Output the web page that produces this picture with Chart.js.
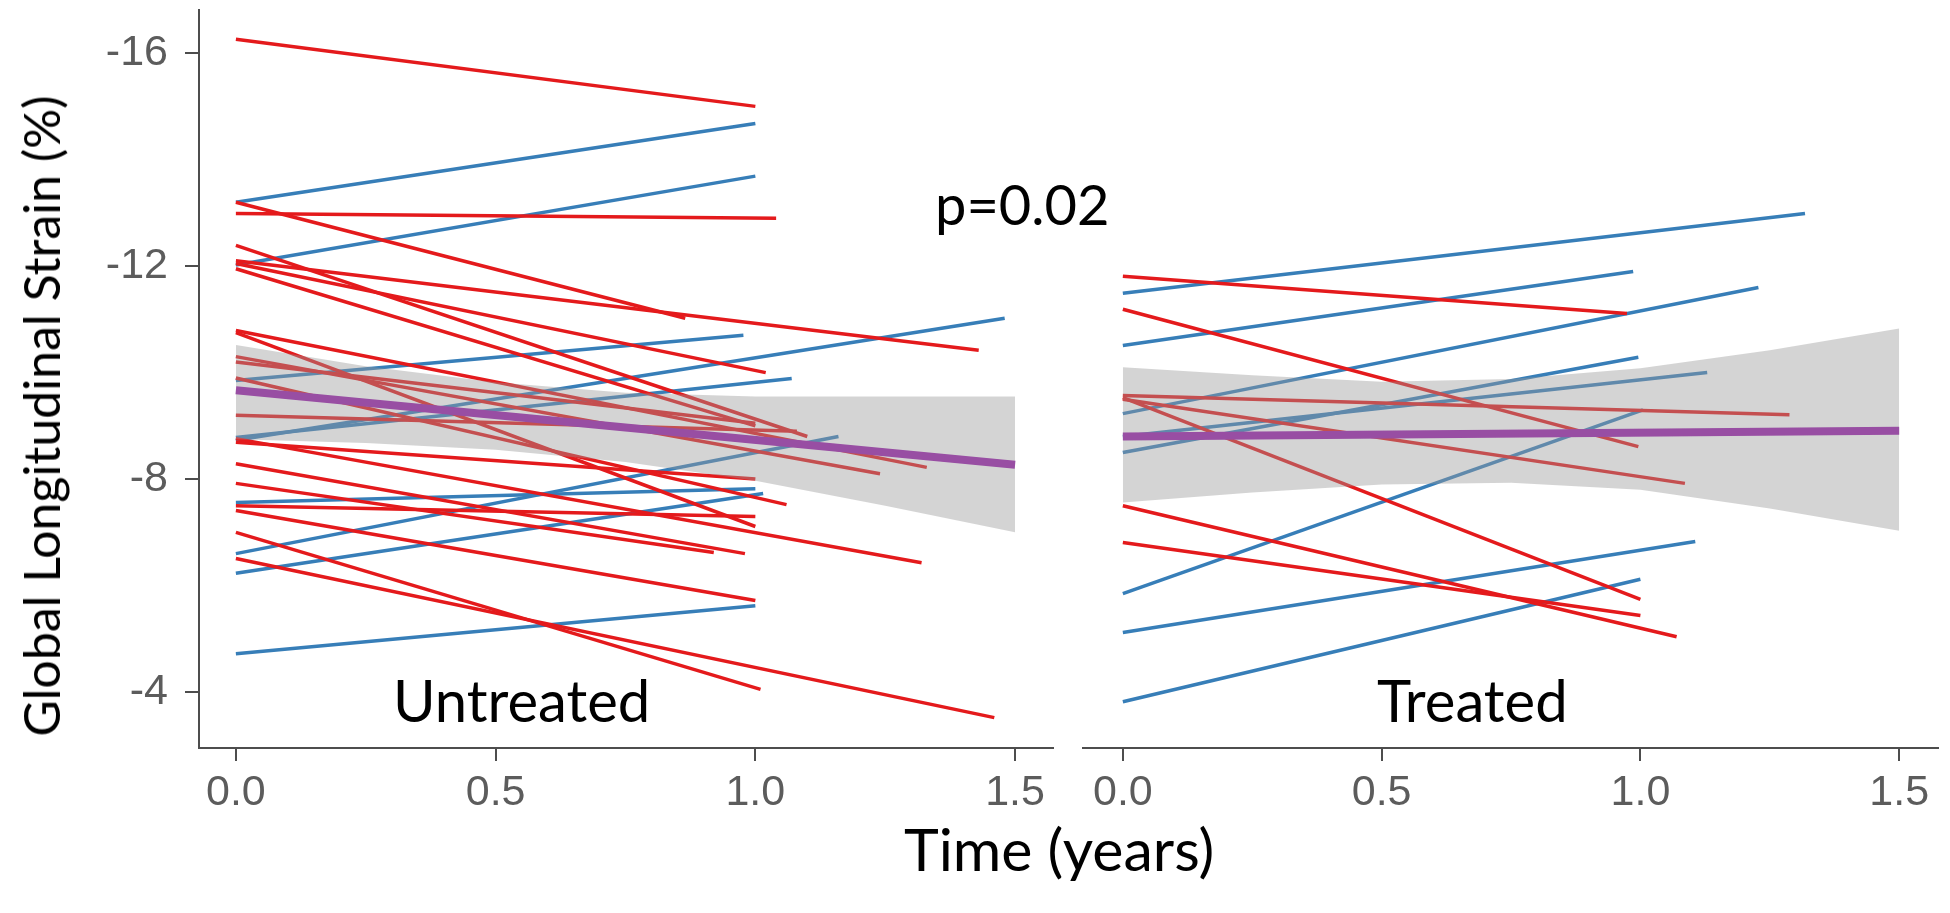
<!DOCTYPE html>
<html>
<head>
<meta charset="utf-8">
<script src="https://cdn.jsdelivr.net/npm/chart.js@4.4.1/dist/chart.umd.min.js"></script>
<style>
  html, body { margin: 0; padding: 0; background: #fff; }
  body { width: 1950px; height: 913px; position: relative; overflow: hidden; }
  .panel { position: absolute; top: 0; height: 913px; }
  #left { left: 0; width: 1066px; }
  #right { left: 1070px; width: 880px; }
  .label { position: absolute; white-space: nowrap; color: #000; line-height: 1; font-family: Lato, sans-serif; }
</style>
</head>
<body>
<div class="panel" id="left"><canvas id="untreatedChart"></canvas></div>
<div class="panel" id="right"><canvas id="treatedChart"></canvas></div>
<div class="label" style="font-size:50px; left:41px; top:416px; transform:translate(-50%,-50%) rotate(-90deg);">Global Longitudinal Strain (%)</div>
<div class="label" style="font-size:58px; left:393px; top:671px;">Untreated</div>
<div class="label" style="font-size:58px; left:1377px; top:671px;">Treated</div>
<div class="label" style="font-size:56px; left:935px; top:176px;">p=0.02</div>
<div class="label" style="font-size:59px; left:904px; top:819px;">Time (years)</div>
<script>
// ticks
const xTicks = [0, 0.5, 1.0, 1.5];
const yTicks = [-16, -12, -8, -4];

// untreated subjects: strain at baseline, time of follow-up, strain at follow-up
const untreatedStart   = [-16.26, -13.2, -12.99, -12.39, -12.1, -12.05, -11.95, -10.79, -10.75, -10.3, -10.2, -9.9, -9.2, -8.76, -8.69, -8.29, -7.92, -7.5, -7.41, -7.0, -6.51,
                          -13.2, -12.02, -9.85, -8.73, -8.78, -7.56, -6.6, -6.23, -4.72];
const untreatedEndTime = [1.0, 0.865, 1.04, 1.1, 1.43, 1.02, 1.0, 1.33, 1.0, 1.24, 1.0, 1.06, 1.08, 1.32, 1.0, 0.98, 0.92, 1.0, 1.0, 1.01, 1.46,
                          1.0, 1.0, 0.977, 1.48, 1.07, 1.0, 1.16, 1.015, 1.0];
const untreatedEnd     = [-15.0, -11.02, -12.9, -8.8, -10.42, -10.0, -9.0, -8.22, -7.11, -8.1, -9.05, -7.52, -8.9, -6.43, -8.0, -6.6, -6.62, -7.3, -5.72, -4.05, -3.52,
                          -14.68, -13.69, -10.7, -11.02, -9.89, -7.82, -8.8, -7.73, -5.62];

// treated subjects
const treatedStart   = [-11.81, -11.19, -9.57, -9.53, -9.5, -7.5, -6.81,
                        -11.49, -10.51, -9.23, -8.5, -8.8, -5.85, -5.12, -3.82];
const treatedEndTime = [0.974, 0.996, 1.288, 1.0, 1.086, 1.07, 1.0,
                        1.318, 0.986, 1.228, 0.996, 1.129, 1.005, 1.106, 1.0];
const treatedEnd     = [-11.11, -8.61, -9.21, -5.74, -7.92, -5.04, -5.44,
                        -12.99, -11.9, -11.6, -10.29, -10.0, -9.3, -6.83, -6.12];

// group fits and confidence bands
const fitTime = [0, 1.5];
const untreatedFit = [-9.67, -8.27];
const treatedFit = [-8.8, -8.91];
const bandTime = [0, 0.25, 0.5, 0.75, 1.0, 1.25, 1.5];
const untreatedUpper = [-10.52, -10.12, -9.82, -9.62, -9.55, -9.55, -9.55];
const untreatedLower = [-8.75, -8.68, -8.55, -8.32, -7.97, -7.5, -7.0];
const treatedUpper = [-10.1, -9.95, -9.83, -9.88, -10.08, -10.42, -10.83];
const treatedLower = [-7.56, -7.75, -7.9, -7.93, -7.8, -7.45, -7.03];

const RED = "#e41a1c";
const BLUE = "#377eb8";
const PURPLE = "#984ea3";
const AXIS = "#4d4d4d";
const TICK = "#5c5c5c";
const TICK_FONT = "'Liberation Sans', Arial, sans-serif";

function pts(xs, ys) {
  return xs.map((x, i) => ({ x: x, y: ys[i] }));
}

function buildDatasets(start, endTime, end, fit, upper, lower) {
  const sets = [
    { data: pts(fitTime, fit), borderColor: PURPLE, borderWidth: 8, pointRadius: 0, fill: false, order: 0 },
    { data: pts(bandTime, upper), borderColor: "rgba(0,0,0,0)", borderWidth: 0, pointRadius: 0,
      fill: "+1", backgroundColor: "rgba(153,153,153,0.42)", order: 1 },
    { data: pts(bandTime, lower), borderColor: "rgba(0,0,0,0)", borderWidth: 0, pointRadius: 0, fill: false, order: 1 }
  ];
  start.forEach((s0, i) => {
    sets.push({
      data: [{ x: 0, y: s0 }, { x: endTime[i], y: end[i] }],
      borderColor: end[i] < s0 ? BLUE : RED,
      borderWidth: 3.5,
      pointRadius: 0,
      fill: false,
      order: 2
    });
  });
  return sets;
}

function noPadding(s) {
  s.paddingTop = 0;
  s.paddingBottom = 0;
  s.paddingLeft = 0;
  s.paddingRight = 0;
}

function makeChart(id, datasets, xMin, xMax, showY, padding) {
  const ctx = document.getElementById(id).getContext("2d");
  return new Chart(ctx, {
    type: "line",
    data: { datasets: datasets },
    options: {
      responsive: true,
      maintainAspectRatio: false,
      animation: false,
      layout: { padding: padding, autoPadding: false },
      elements: { line: { tension: 0 } },
      plugins: {
        legend: { display: false },
        tooltip: { enabled: false },
        filler: { drawTime: "beforeDatasetDraw" }
      },
      scales: {
        x: {
          type: "linear",
          min: xMin,
          max: xMax,
          afterBuildTicks: s => { s.ticks = xTicks.map(v => ({ value: v })); },
          afterFit: s => { s.height = 165; noPadding(s); },
          grid: { drawOnChartArea: false, drawTicks: true, tickLength: 13, color: AXIS, lineWidth: 2 },
          border: { display: true, color: AXIS, width: 2 },
          ticks: { color: TICK, font: { family: TICK_FONT, size: 43 }, padding: 6, maxRotation: 0, autoSkip: false,
                   callback: v => Number(v).toFixed(1) }
        },
        y: {
          type: "linear",
          display: showY,
          reverse: true,
          min: -16.81,
          max: -2.95,
          afterBuildTicks: s => { s.ticks = yTicks.map(v => ({ value: v })); },
          afterFit: s => { s.width = showY ? 199 : 0; noPadding(s); },
          grid: { drawOnChartArea: false, drawTicks: true, tickLength: 14, color: AXIS, lineWidth: 2 },
          border: { display: true, color: AXIS, width: 2 },
          ticks: { color: TICK, font: { family: TICK_FONT, size: 43 }, padding: 17,
                   callback: v => String(v) }
        }
      }
    }
  });
}

makeChart("untreatedChart",
  buildDatasets(untreatedStart, untreatedEndTime, untreatedEnd, untreatedFit, untreatedUpper, untreatedLower),
  -0.071, 1.573, true, { top: 10, right: 13, left: 0, bottom: 0 });

makeChart("treatedChart",
  buildDatasets(treatedStart, treatedEndTime, treatedEnd, treatedFit, treatedUpper, treatedLower),
  -0.077, 1.575, false, { top: 10, right: 12, left: 13, bottom: 0 });
</script>
</body>
</html>
